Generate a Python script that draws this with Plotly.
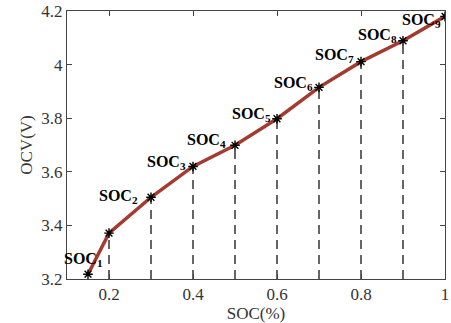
import plotly.graph_objects as go

soc = [0.15, 0.2, 0.3, 0.4, 0.5, 0.6, 0.7, 0.8, 0.9, 1.0]
ocv = [3.218, 3.371, 3.505, 3.62, 3.699, 3.798, 3.915, 4.011, 4.089, 4.18]
label_idx = [0, 2, 3, 4, 5, 6, 7, 8, 9]
label_names = ["1", "2", "3", "4", "5", "6", "7", "8", "9"]
x_ticks = [0.2, 0.4, 0.6, 0.8, 1.0]
x_ticklabels = ["0.2", "0.4", "0.6", "0.8", "1"]
y_ticks = [3.2, 3.4, 3.6, 3.8, 4.0, 4.2]
y_ticklabels = ["3.2", "3.4", "3.6", "3.8", "4", "4.2"]

# label offsets in pixels (xshift, yshift)
label_shift = [(17, 15), (-11, 1), (-5, 4), (-7, 5), (-4, 4), (-4, 4), (-5, 6), (-4, 5), (-2, -4)]

fig = go.Figure()

# dashed drop lines
for xv, yv in zip(soc[1:-1], ocv[1:-1]):
    fig.add_trace(go.Scatter(x=[xv, xv], y=[3.2, yv], mode="lines",
                             line=dict(color="black", width=1.2, dash="9px,6px"),
                             showlegend=False, hoverinfo="skip"))

fig.add_trace(go.Scatter(x=soc, y=ocv, mode="lines",
                         line=dict(color="#A53A30", width=3.5), showlegend=False))
fig.add_trace(go.Scatter(x=soc, y=ocv, mode="markers",
                         marker=dict(symbol="asterisk", size=8, color="black",
                                     line=dict(color="black", width=1.4)),
                         showlegend=False))

for i, n, (dx, dy) in zip(label_idx, label_names, label_shift):
    fig.add_annotation(x=soc[i], y=ocv[i], xref="x", yref="y",
                       text="<b>SOC<sub>%s</sub></b>" % n, showarrow=False,
                       xanchor="right", yanchor="middle", xshift=dx, yshift=dy,
                       font=dict(family="Liberation Serif", size=16, color="black"))

axis_common = dict(showline=True, linecolor="#444", linewidth=1, mirror="ticks",
                   ticks="inside", ticklen=5, tickcolor="#444", showgrid=False,
                   zeroline=False,
                   tickfont=dict(family="Liberation Serif", size=17, color="#333"))

fig.update_xaxes(range=[0.1, 1.0], tickvals=x_ticks, ticktext=x_ticklabels,
                 ticklabeloverflow="allow",
                 title=dict(text="SOC(%)", standoff=5,
                            font=dict(family="Liberation Serif", size=17, color="#333")),
                 **axis_common)
fig.update_yaxes(range=[3.2, 4.2], tickvals=y_ticks, ticktext=y_ticklabels,
                 title=dict(text="OCV(V)", standoff=4,
                            font=dict(family="Liberation Serif", size=17, color="#333")),
                 **axis_common)

fig.update_layout(width=451, height=323, margin=dict(l=67, r=2, t=11, b=41),
                  plot_bgcolor="white", paper_bgcolor="white")

fig.write_html("out.html")
